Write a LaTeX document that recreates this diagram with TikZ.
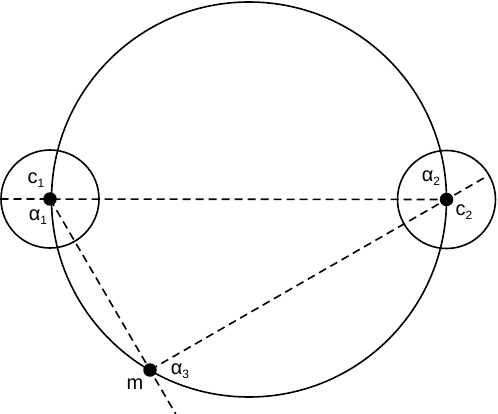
\documentclass[tikz,border=0pt]{standalone}
\usepackage{fontspec}
\setmainfont{Liberation Sans}
\usetikzlibrary{calc}
\newcommand\lowsub[1]{\raisebox{-0.4ex}{\fontsize{12}{12}\selectfont #1}}
\tikzset{
  dot/.style={circle,fill=black,inner sep=0pt,minimum size=13.5pt},
  ring/.style={draw=black,line width=1.6pt},
  dline/.style={draw=black,line width=1.6pt,dash pattern=on 8pt off 5pt},
  lbl/.style={font=\fontsize{20}{20}\selectfont,inner sep=0pt}
}
\begin{document}
\begin{tikzpicture}[x=1pt,y=-1pt]
\useasboundingbox (0,0) rectangle (498,414);
\coordinate (O) at (249,199.5);
\coordinate (p1) at (50,199);
\coordinate (p2) at (446.5,199.5);
\coordinate (p3) at (150,370);
% circles
\draw[ring] (O) circle (197.5);
\draw[ring] (p1) circle (49);
\draw[ring] (p2) circle (49);
% extension ends
\coordinate (e1) at (0.5,199);
\coordinate (e3) at ($(p1)!1.257!(p3)$);
\coordinate (e2) at ($(p3)!1.143!(p2)$);
% dashed lines
\draw[dline] (e1) -- (p2);
\draw[dline] (p1) -- (e3);
\draw[dline] (p3) -- (e2);
% dots
\node[dot] (c1) at (p1) {};
\node[dot] (c2) at (p2) {};
\node[dot] (m) at (p3) {};
% labels
\node[lbl] (lc1) at (36,180) {c\lowsub{1}};
\node[lbl] (la1) at (38,217) {α\lowsub{1}};
\node[lbl] (la2) at (431,178) {α\lowsub{2}};
\node[lbl] (lc2) at (464,212) {c\lowsub{2}};
\node[lbl] (lm) at (135,384) {m};
\node[lbl] (la3) at (180,371) {α\lowsub{3}};
\end{tikzpicture}
\end{document}
